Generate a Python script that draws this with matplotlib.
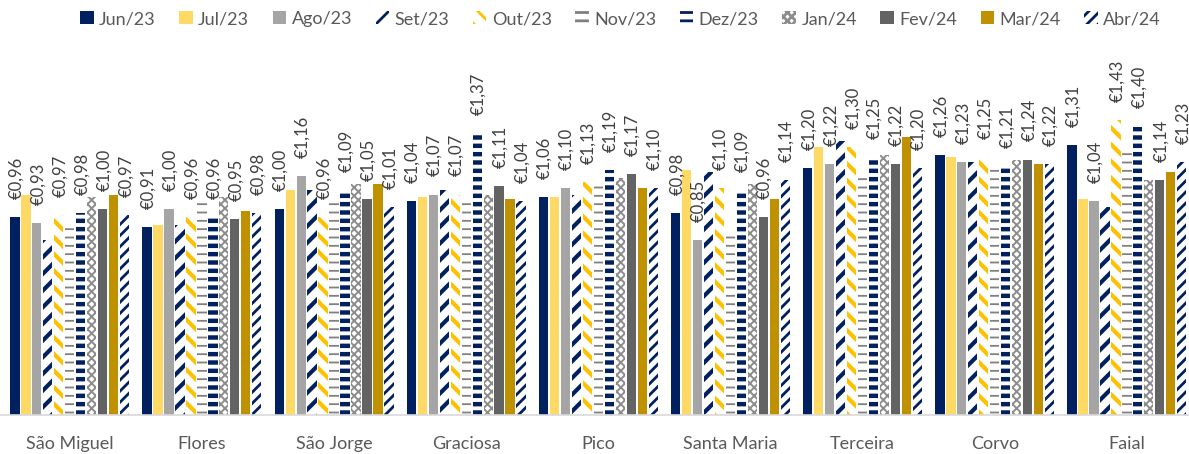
import numpy as np
import matplotlib
matplotlib.use("Agg")
import matplotlib.pyplot as plt

# Dados
ilhas = ["São Miguel", "Flores", "São Jorge", "Graciosa", "Pico",
         "Santa Maria", "Terceira", "Corvo", "Faial"]
meses = ["Jun/23", "Jul/23", "Ago/23", "Set/23", "Out/23", "Nov/23",
         "Dez/23", "Jan/24", "Fev/24", "Mar/24", "Abr/24"]

jun23 = [0.96, 0.91, 1.00, 1.04, 1.06, 0.98, 1.20, 1.26, 1.31]
jul23 = [1.07, 0.92, 1.09, 1.06, 1.06, 1.19, 1.30, 1.25, 1.05]
ago23 = [0.93, 1.00, 1.16, 1.07, 1.10, 0.85, 1.22, 1.23, 1.04]
set23 = [0.85, 0.92, 1.09, 1.09, 1.07, 1.18, 1.33, 1.23, 1.01]
out23 = [0.97, 0.96, 0.96, 1.07, 1.13, 1.10, 1.30, 1.25, 1.43]
nov23 = [0.92, 1.05, 1.05, 1.05, 1.12, 0.89, 1.17, 1.22, 1.30]
dez23 = [0.98, 0.96, 1.09, 1.37, 1.19, 1.09, 1.25, 1.21, 1.40]
jan24 = [1.06, 1.06, 1.12, 1.07, 1.15, 1.12, 1.26, 1.24, 1.14]
fev24 = [1.00, 0.95, 1.05, 1.11, 1.17, 0.96, 1.22, 1.24, 1.14]
mar24 = [1.07, 0.99, 1.12, 1.05, 1.10, 1.05, 1.35, 1.22, 1.18]
abr24 = [0.97, 0.98, 1.01, 1.04, 1.10, 1.14, 1.20, 1.22, 1.23]

series = [jun23, jul23, ago23, set23, out23, nov23,
          dez23, jan24, fev24, mar24, abr24]

# so estes meses tem etiqueta de valor
com_rotulo = ["Jun/23", "Ago/23", "Out/23", "Dez/23", "Fev/24", "Abr/24"]

navy = "#002060"
# (cor de fundo, cor do padrao, hatch, espessura do hatch)
estilos = [
    ("#002060", None, None, 0),
    ("#FFD966", None, None, 0),
    ("#A5A5A5", None, None, 0),
    ("white", navy, "//", 3.0),
    ("white", "#FFC000", "\\\\", 3.0),
    ("white", "#808080", "--", 1.3),
    ("white", navy, "--", 3.2),
    ("white", "#8C8C8C", "xxxx", 1.4),
    ("#636363", None, None, 0),
    ("#BF9000", None, None, 0),
    ("white", navy, "///", 2.0),
]

plt.rcParams["font.family"] = ["Lato", "DejaVu Sans"]

fig = plt.figure(figsize=(11.89, 4.54), dpi=100)
ax = fig.add_axes([0.0, 0.086, 1.0, 0.726])

x = np.arange(len(ilhas))
passo = 0.083
largura = 0.07

handles = []
for j, (mes, vals) in enumerate(zip(meses, series)):
    face, hcor, hatch, hlw = estilos[j]
    pos = x + (j - 5) * passo
    if hatch:
        plt.rcParams["hatch.linewidth"] = hlw
        barras = ax.bar(pos, vals, largura, color=face, edgecolor=hcor,
                        hatch=hatch, linewidth=0, label=mes)
        for b in barras:
            if hasattr(b, "set_hatch_linewidth"):
                b.set_hatch_linewidth(hlw)
    else:
        barras = ax.bar(pos, vals, largura, color=face, linewidth=0, label=mes)
    handles.append(barras)

    if mes in com_rotulo:
        for px, v in zip(pos, vals):
            txt = "€" + f"{v:.2f}".replace(".", ",")
            ax.annotate(txt, (px, v), xytext=(1, 13), textcoords="offset points",
                        rotation=90, ha="center", va="bottom",
                        fontsize=12, color="#404040", annotation_clip=False)

ax.set_xlim(-0.528, 8.47)
ax.set_ylim(0, 1.6)
ax.set_xticks(x)
ax.set_xticklabels(ilhas, fontsize=13, color="#595959")
ax.tick_params(axis="x", length=0, pad=15)
ax.set_yticks([])
for lado in ["top", "right", "left"]:
    ax.spines[lado].set_visible(False)
ax.spines["bottom"].set_color("#D9D9D9")
ax.spines["bottom"].set_linewidth(1.2)

leg = fig.legend(handles=handles, loc="center", bbox_to_anchor=(0.522, 0.958),
                 ncol=11, frameon=False, fontsize=13, handlelength=0.75,
                 handleheight=0.75, handletextpad=0.3, columnspacing=1.3)
for t in leg.get_texts():
    t.set_color("#595959")

fig.savefig("out.png", dpi=100)
